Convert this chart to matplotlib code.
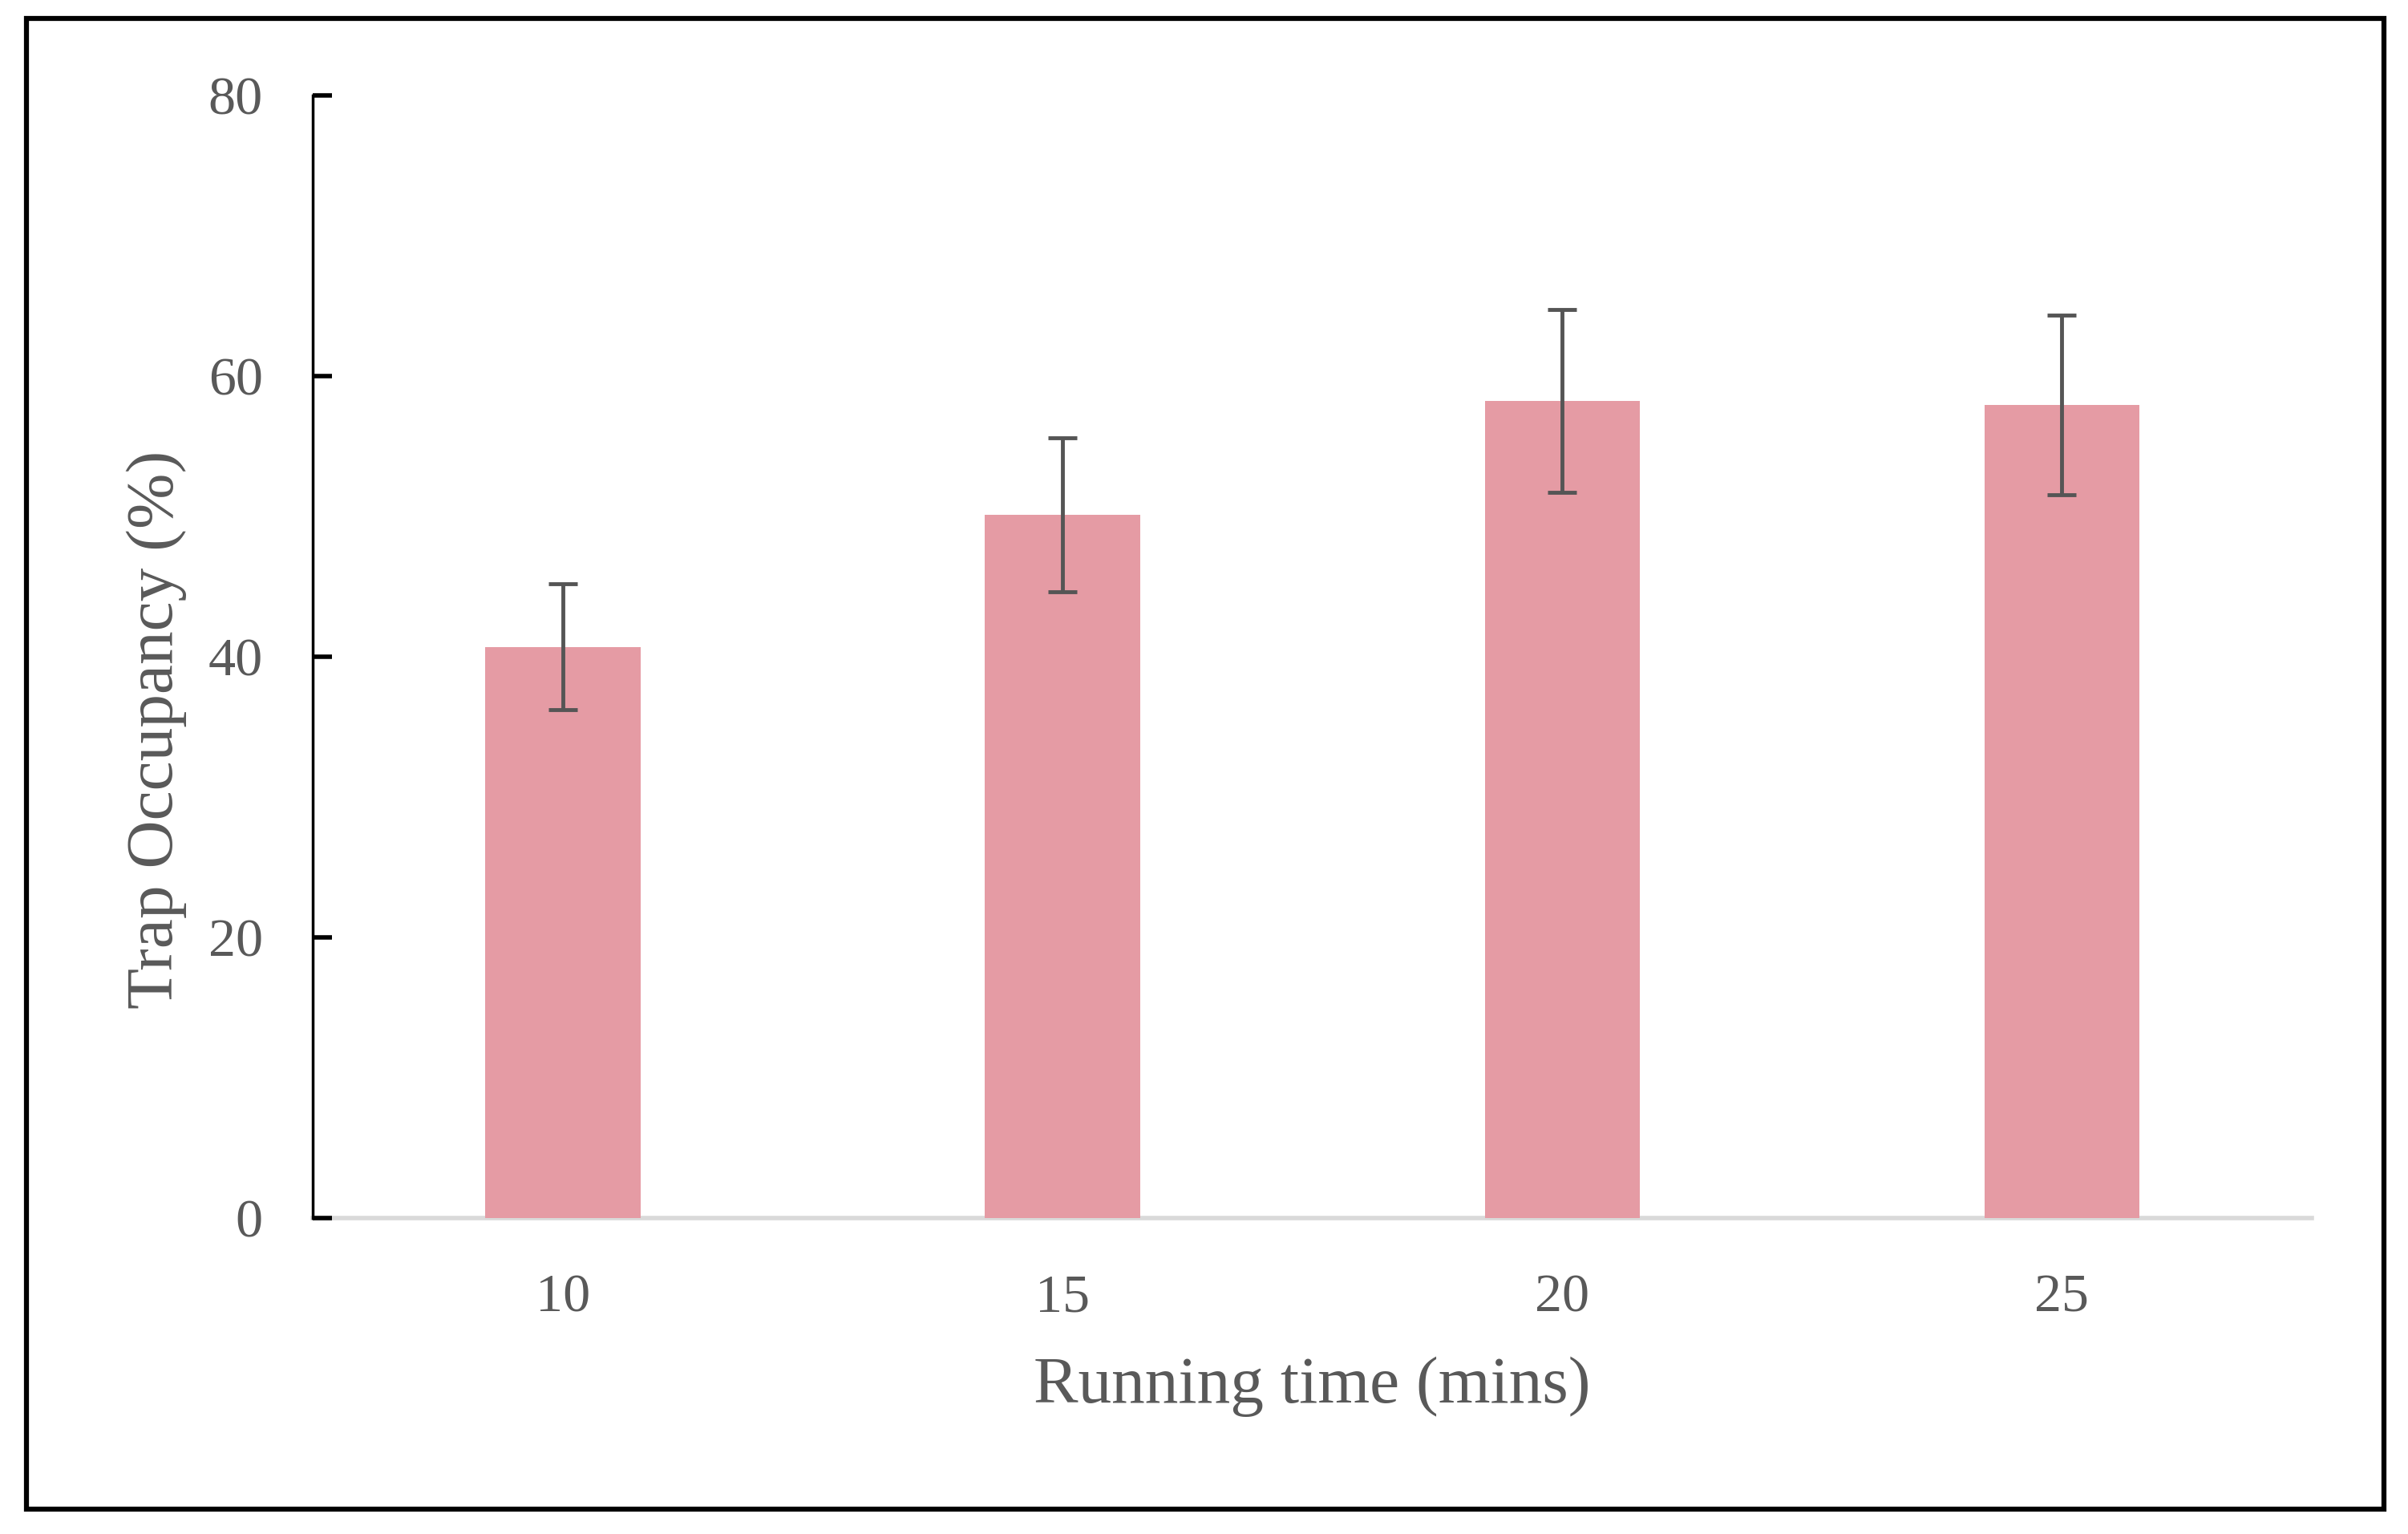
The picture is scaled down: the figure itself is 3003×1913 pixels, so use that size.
import numpy as np
import matplotlib
matplotlib.use("Agg")
import matplotlib.pyplot as plt
from matplotlib.patches import Rectangle

plt.rcParams.update({
    "font.family": "serif",
    "font.serif": ["Liberation Serif", "DejaVu Serif"],
})

# data
running_time = ["10", "15", "20", "25"]
occupancy = [40.7, 50.1, 58.2, 57.9]
occupancy_err = [4.5, 5.5, 6.5, 6.4]

BAR_COLOR = "#e59ba4"
TEXT_COLOR = "#595959"

fig = plt.figure(figsize=(30.03, 19.13), dpi=100)
ax = fig.add_axes([0.130, 0.206, 0.830, 0.732])

x = np.arange(len(running_time))
ax.bar(x, occupancy, width=0.31, color=BAR_COLOR, zorder=2)
ax.errorbar(x, occupancy, yerr=occupancy_err, fmt="none", ecolor="#555555",
            elinewidth=3.5, capsize=13, capthick=3.5, zorder=3)

ax.set_xlim(-0.5, len(running_time) - 0.5)
ax.set_ylim(0, 80)
ax.set_yticks([0, 20, 40, 60, 80])
ax.set_xticks(x)
ax.set_xticklabels(running_time)

for s in ["top", "right"]:
    ax.spines[s].set_visible(False)
ax.spines["left"].set_linewidth(2.5)
ax.spines["left"].set_color("black")
ax.spines["bottom"].set_linewidth(4)
ax.spines["bottom"].set_color("#d9d9d9")
ax.spines["bottom"].set_zorder(1)

ax.tick_params(axis="y", direction="in", length=17, width=4, color="black",
               labelsize=49, labelcolor=TEXT_COLOR, pad=45)
ax.tick_params(axis="x", length=0, labelsize=49, labelcolor=TEXT_COLOR, pad=50)

ax.set_xlabel("Running time (mins)", fontsize=60, color=TEXT_COLOR, labelpad=30)
ax.set_ylabel("Trap Occupancy (%)", fontsize=60, color=TEXT_COLOR)
ax.yaxis.set_label_coords(-0.063, 0.435)

# outer frame around the whole chart
fig.patches.append(Rectangle((0.011, 0.016), 0.979, 0.972, transform=fig.transFigure,
                             fill=False, edgecolor="black", linewidth=4.5))

fig.savefig("out.png", dpi=100, facecolor="white")
